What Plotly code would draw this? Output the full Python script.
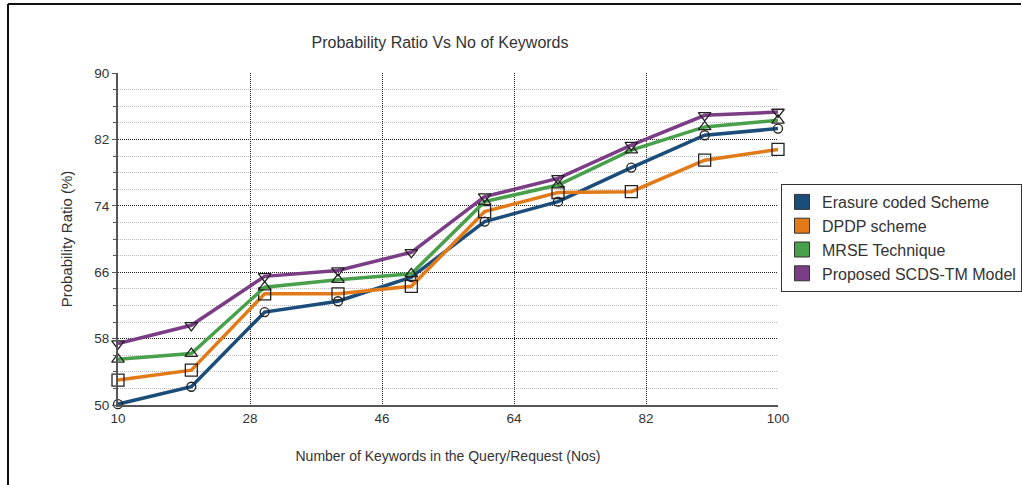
import plotly.graph_objects as go

# Number of keywords in the query/request
keywords = [10, 20, 30, 40, 50, 60, 70, 80, 90, 100]

# Probability ratio (%) per scheme
erasure_coded = [50.1, 52.2, 61.2, 62.5, 65.4, 72.1, 74.5, 78.6, 82.5, 83.3]
dpdp_scheme = [53.0, 54.2, 63.4, 63.4, 64.3, 73.3, 75.6, 75.7, 79.5, 80.8]
mrse_technique = [55.5, 56.2, 64.2, 65.1, 65.8, 74.5, 76.5, 80.7, 83.5, 84.3]
proposed_scds_tm = [57.4, 59.6, 65.5, 66.2, 68.4, 75.1, 77.3, 81.3, 84.9, 85.3]

series_names = ["Erasure coded Scheme", "DPDP scheme", "MRSE Technique", "Proposed SCDS-TM Model"]
x_ticks = [10, 28, 46, 64, 82, 100]
y_ticks = [50, 58, 66, 74, 82, 90]

series = [erasure_coded, dpdp_scheme, mrse_technique, proposed_scds_tm]
colors = ["#1b4d7a", "#e37a18", "#48a04a", "#7b3d86"]
symbols = ["circle-open", "square-open", "triangle-up-open", "triangle-down-open"]
sizes = [9, 12, 11, 11]

FONT = "Liberation Sans"
DOTS = "1px,1px"

fig = go.Figure()

for name, vals, col, sym, sz in zip(series_names, series, colors, symbols, sizes):
    fig.add_trace(go.Scatter(
        x=keywords, y=vals, mode="lines+markers", name=name, showlegend=False,
        line=dict(color=col, width=3.5),
        marker=dict(symbol=sym, size=sz, color="#222222", line=dict(color="#222222", width=1.3)),
        cliponaxis=False,
    ))

# Legend entries drawn as filled colour swatches
for name, col in zip(series_names, colors):
    fig.add_trace(go.Scatter(
        x=[None], y=[None], mode="markers", name=name,
        marker=dict(symbol="square", size=15, color=col, line=dict(color="#333333", width=1)),
    ))

fig.update_layout(
    width=1022, height=485,
    margin=dict(l=118, r=244, t=73, b=80, autoexpand=False),
    paper_bgcolor="white", plot_bgcolor="white",
    font=dict(family=FONT, color="#333333"),
    title=dict(text="Probability Ratio Vs No of Keywords", x=440 / 1022, xanchor="center",
               y=1 - 42 / 485, yanchor="middle", font=dict(size=16, color="#333333")),
    legend=dict(x=(781 - 118) / 660, y=(405 - 184) / 332, xanchor="left", yanchor="top",
                bordercolor="#333333", borderwidth=1, bgcolor="white",
                font=dict(size=16, color="#333333"), itemsizing="trace",
                tracegroupgap=0),
    xaxis=dict(
        range=[10, 100], tickvals=x_ticks, ticktext=[str(v) for v in x_ticks],
        showgrid=True, gridcolor="#222222", griddash=DOTS, gridwidth=1,
        showline=True, linecolor="#555555", linewidth=2, zeroline=False,
        ticks="", tickfont=dict(size=13.5, color="#333333"),
        title=dict(text="Number of Keywords in the Query/Request (Nos)", font=dict(size=14), standoff=26),
    ),
    yaxis=dict(
        range=[50, 90], tickvals=y_ticks, ticktext=[str(v) for v in y_ticks],
        showgrid=True, gridcolor="#222222", griddash=DOTS, gridwidth=1,
        showline=True, linecolor="#555555", linewidth=2, zeroline=False,
        ticks="outside", ticklen=4, tickcolor="#555555", tickfont=dict(size=13.5, color="#333333"),
        minor=dict(dtick=2, showgrid=True, gridcolor="#b8b8b8", griddash=DOTS, gridwidth=1,
                   ticks="outside", ticklen=3, tickcolor="#555555"),
        title=dict(text="Probability Ratio (%)", font=dict(size=15), standoff=18),
    ),
)

# Outer frame lines of the image
px = lambda p: (p - 118) / 660
py = lambda p: (405 - p) / 332
fig.add_shape(type="line", xref="paper", yref="paper", x0=px(8), x1=px(8), y0=py(4), y1=py(485),
              line=dict(color="#111111", width=2))
fig.add_shape(type="line", xref="paper", yref="paper", x0=px(8), x1=px(1021), y0=py(4), y1=py(4),
              line=dict(color="#111111", width=2))

fig.write_html("out.html")
